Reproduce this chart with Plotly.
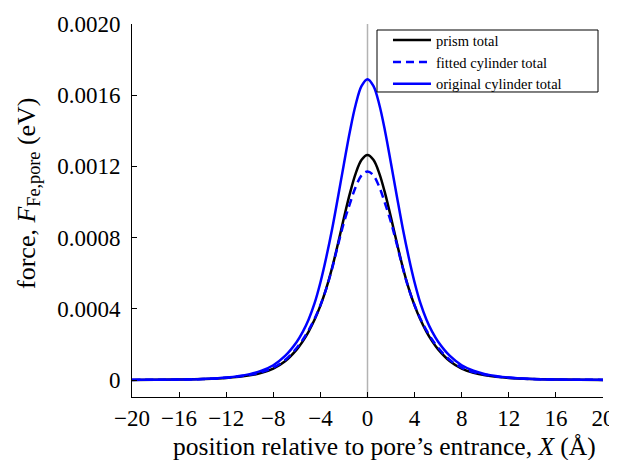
import plotly.graph_objects as go

# position relative to pore's entrance, X (Å)
x_pos = [-20, -18, -16, -14, -12, -10, -9, -8, -7, -6, -5.5, -5, -4.5, -4, -3.5, -3, -2.5, -2, -1.5, -1, -0.5,
         0, 0.5, 1, 1.5, 2, 2.5, 3, 3.5, 4, 4.5, 5, 5.5, 6, 7, 8, 9, 10, 12, 14, 16, 18, 20]

# force values (eV)
prism_total = [0.0000006, 0.0000012, 0.0000025, 0.000005, 0.000011, 0.000026, 0.000040, 0.000064, 0.000105,
               0.000172, 0.000217, 0.000272, 0.000338, 0.000418, 0.000515, 0.000632, 0.000768, 0.000911,
               0.001047, 0.001161, 0.001237,
               0.001264,
               0.001237, 0.001161, 0.001047, 0.000911, 0.000768, 0.000632, 0.000515, 0.000418, 0.000338,
               0.000272, 0.000217, 0.000172, 0.000105, 0.000064, 0.000040, 0.000026, 0.000011, 0.000005,
               0.0000025, 0.0000012, 0.0000006]

fitted_cylinder_total = [0.0000007, 0.0000013, 0.0000027, 0.0000055, 0.000012, 0.000029, 0.000044, 0.000070,
                         0.000112, 0.000181, 0.000226, 0.000280, 0.000343, 0.000420, 0.000513, 0.000628,
                         0.000760, 0.000885, 0.000990, 0.001085, 0.001150,
                         0.001172,
                         0.001150, 0.001085, 0.000990, 0.000885, 0.000760, 0.000628, 0.000513, 0.000420,
                         0.000343, 0.000280, 0.000226, 0.000181, 0.000112, 0.000070, 0.000044, 0.000029,
                         0.000012, 0.0000055, 0.0000027, 0.0000013, 0.0000007]

original_cylinder_total = [0.0000008, 0.0000015, 0.000003, 0.000006, 0.0000135, 0.000033, 0.000052, 0.000083,
                           0.000135, 0.000215, 0.000270, 0.000340, 0.000430, 0.000548, 0.000690, 0.000850,
                           0.001030, 0.001215, 0.001395, 0.001548, 0.001652,
                           0.001690,
                           0.001652, 0.001548, 0.001395, 0.001215, 0.001030, 0.000850, 0.000690, 0.000548,
                           0.000430, 0.000340, 0.000270, 0.000215, 0.000135, 0.000083, 0.000052, 0.000033,
                           0.0000135, 0.000006, 0.000003, 0.0000015, 0.0000008]

x_ticks = [-20, -16, -12, -8, -4, 0, 4, 8, 12, 16, 20]
y_tick_vals = [0, 0.0004, 0.0008, 0.0012, 0.0016, 0.0020]
y_tick_text = ["0", "0.0004", "0.0008", "0.0012", "0.0016", "0.0020"]

x_title = "position relative to pore\u2019s entrance, <i>X</i> (\u00c5)"
y_title = "force, <i>F</i><sub>Fe,pore</sub> (eV)"

FONT = "Liberation Serif, Times New Roman, serif"

fig = go.Figure()
fig.add_trace(go.Scatter(x=x_pos, y=prism_total, mode="lines", name="prism total",
                         line=dict(color="black", width=2.5, shape="spline", smoothing=1.0)))
fig.add_trace(go.Scatter(x=x_pos, y=fitted_cylinder_total, mode="lines", name="fitted cylinder total",
                         line=dict(color="#0000ff", width=2.5, dash="8px,5px", shape="spline", smoothing=1.0)))
fig.add_trace(go.Scatter(x=x_pos, y=original_cylinder_total, mode="lines", name="original cylinder total",
                         line=dict(color="#0000ff", width=2.5, shape="spline", smoothing=1.0)))

# vertical reference line at the pore entrance
fig.add_shape(type="line", xref="x", yref="paper", x0=0, x1=0, y0=0, y1=1,
              line=dict(color="#b3b3b3", width=1.5), layer="below")
# legend frame
fig.add_shape(type="rect", xref="paper", yref="paper", x0=0.5202, x1=0.9894, y0=0.8177, y1=0.9839,
              line=dict(color="black", width=1), fillcolor="white", layer="above")

# axis titles
fig.add_annotation(text=x_title, xref="paper", yref="paper", x=0.537, y=-0.1314,
                   xanchor="center", yanchor="middle", showarrow=False,
                   font=dict(family=FONT, size=25.5, color="black"))
fig.add_annotation(text=y_title, xref="paper", yref="paper", x=-0.2208, y=0.547,
                   xanchor="center", yanchor="middle", showarrow=False, textangle=-90,
                   font=dict(family=FONT, size=26, color="black"))

fig.update_layout(
    width=609, height=452,
    margin=dict(l=124, r=14, t=16, b=63, autoexpand=False),
    paper_bgcolor="white", plot_bgcolor="white",
    font=dict(family=FONT, size=23, color="black"),
    showlegend=True,
    legend=dict(x=0.5435, y=0.9997, xanchor="left", yanchor="top",
                bgcolor="rgba(0,0,0,0)", borderwidth=0,
                font=dict(family=FONT, size=14.5, color="black"),
                tracegroupgap=0, itemwidth=38),
    xaxis=dict(range=[-20, 20], tickvals=x_ticks, ticks="inside", ticklen=5, tickwidth=1,
               tickcolor="black", showline=True, linecolor="black", linewidth=1,
               showgrid=False, zeroline=False),
    yaxis=dict(range=[-0.0000955, 0.002], tickvals=y_tick_vals, ticktext=y_tick_text,
               ticks="inside", ticklen=5, tickwidth=1, tickcolor="black",
               showline=True, linecolor="black", linewidth=1,
               showgrid=False, zeroline=False, ticklabelstandoff=6),
)

fig.write_html("out.html")
